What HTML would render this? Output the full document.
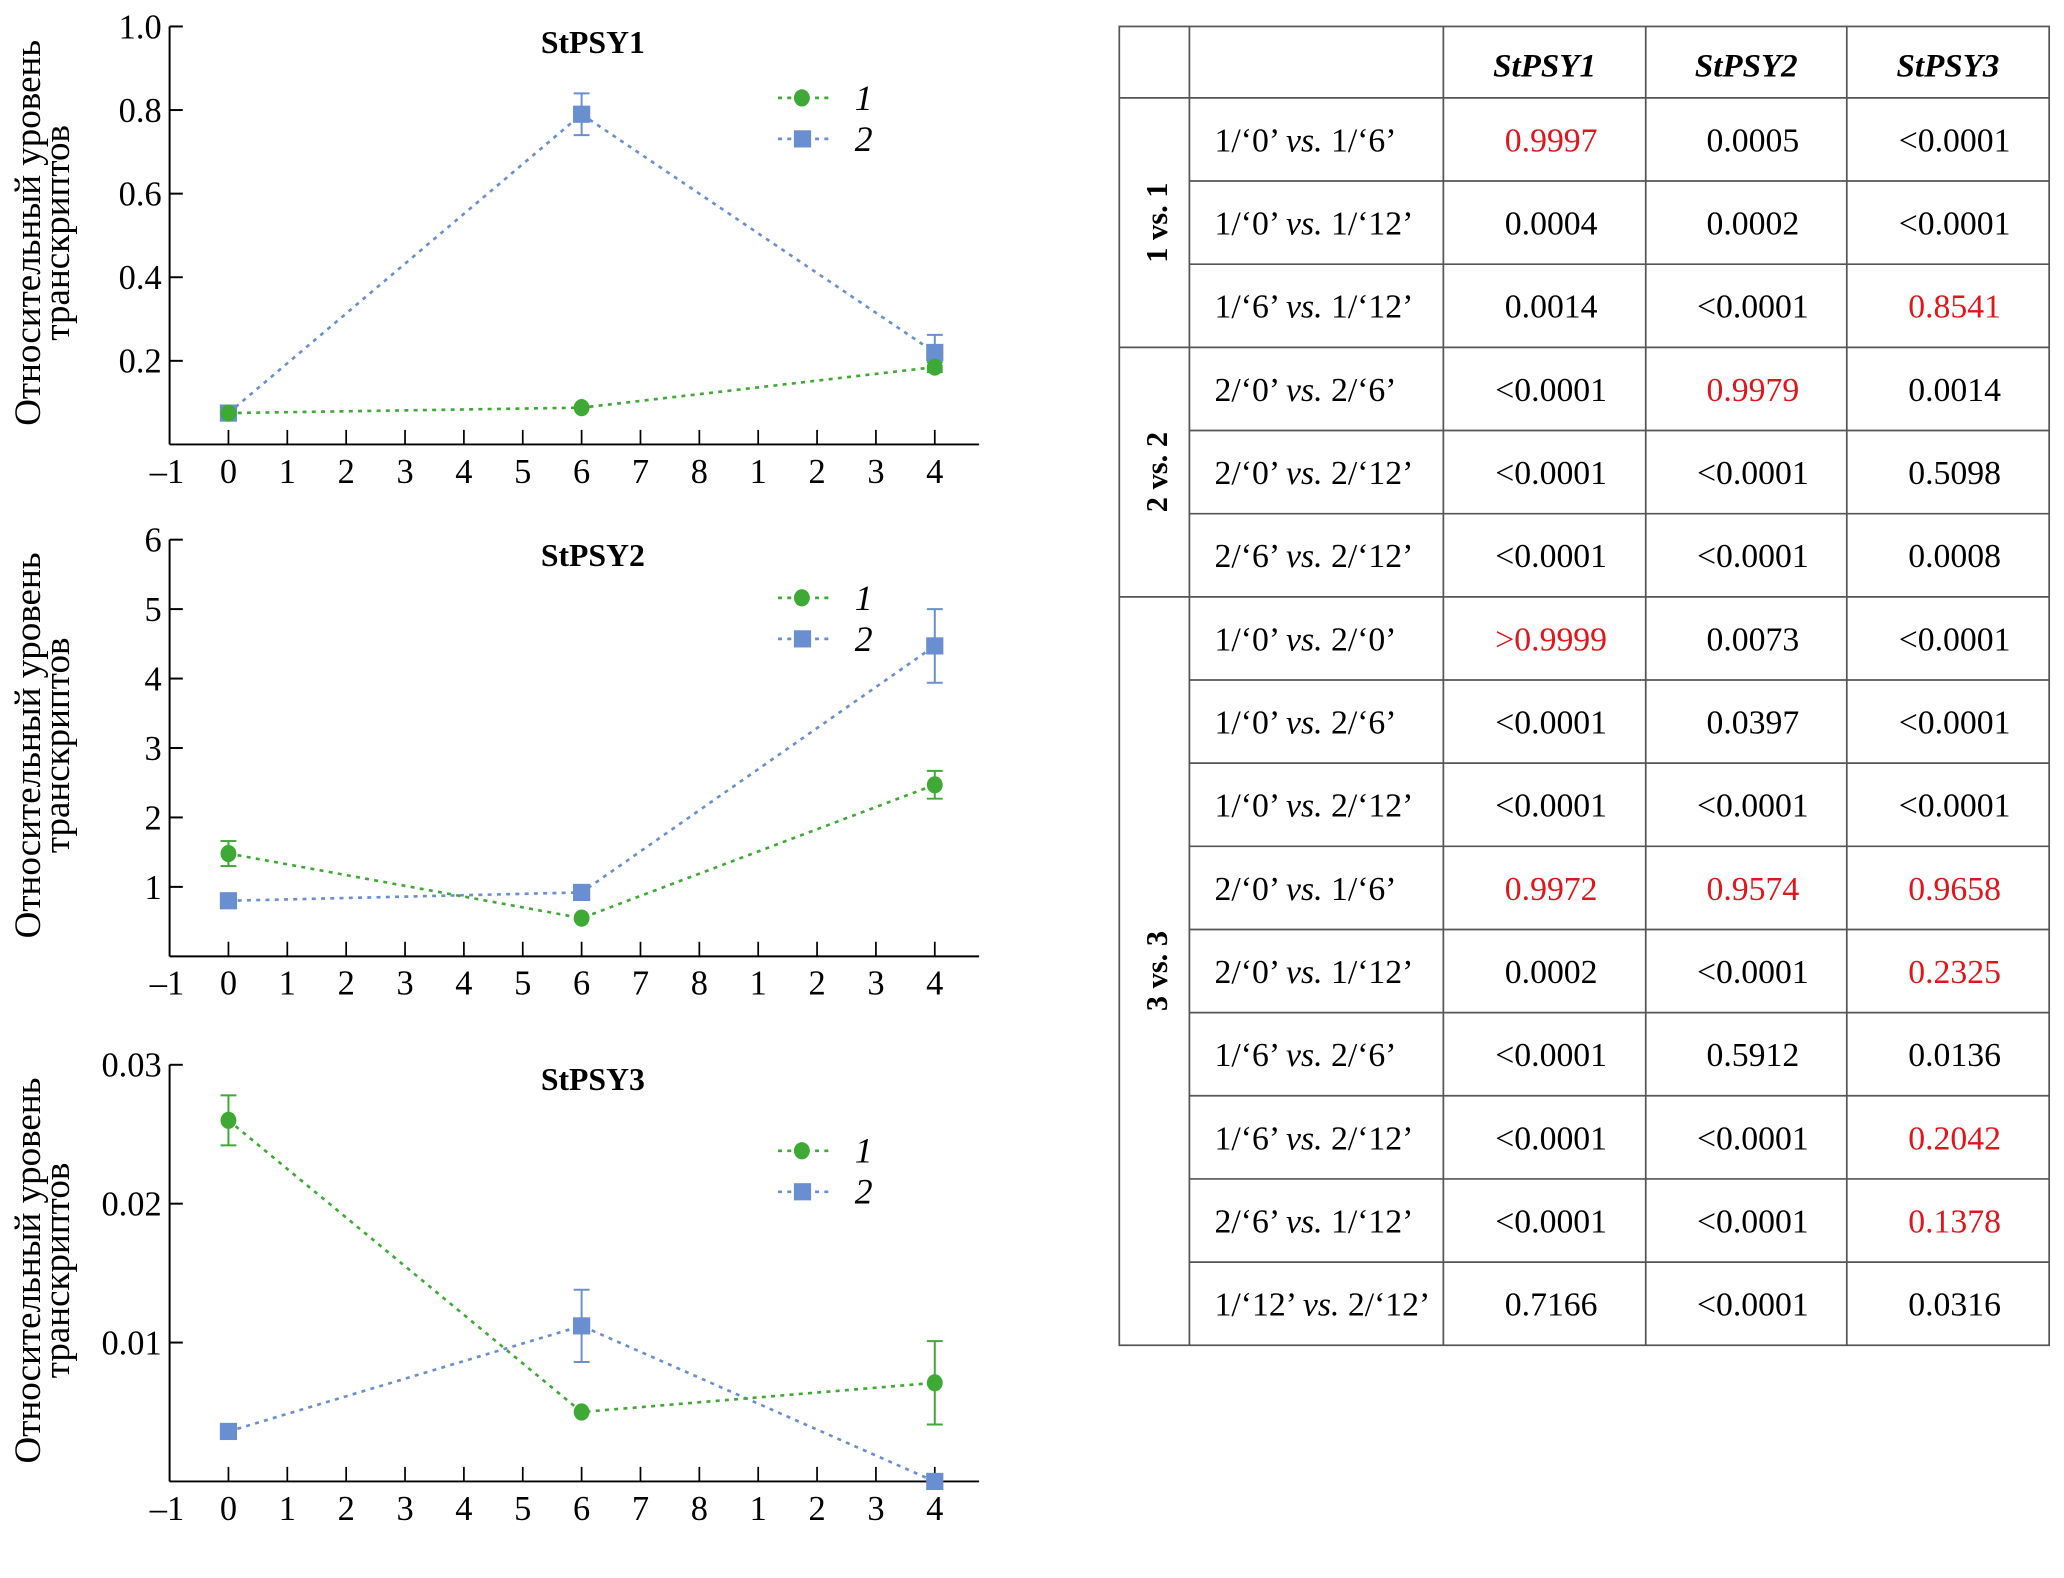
<!DOCTYPE html>
<html><head><meta charset="utf-8"><style>
html,body{margin:0;padding:0;background:#fff;}
svg{display:block;font-family:"Liberation Serif",serif;}
</style></head><body>
<svg id="root" width="2064" height="1578" viewBox="0 0 1560 1193" xmlns="http://www.w3.org/2000/svg">
<g id="charts"></g>
<g id="table"></g>
</svg>
<script>
const xLabels = ["–1","0","1","2","3","4","5","6","7","8","1","2","3","4"];
const pointIdx = [1, 7, 13];
const titles = ["StPSY1","StPSY2","StPSY3"];
const yTicks1 = [0.2,0.4,0.6,0.8,1.0];
const yTickLbl1 = ["0.2","0.4","0.6","0.8","1.0"];
const yTicks2 = [1,2,3,4,5,6];
const yTickLbl2 = ["1","2","3","4","5","6"];
const yTicks3 = [0.01,0.02,0.03];
const yTickLbl3 = ["0.01","0.02","0.03"];
const s1g = [0.075,0.088,0.185], s1gErr = [0,0,0.012];
const s1b = [0.075,0.79,0.22], s1bErr = [0,0.05,0.042];
const s2g = [1.48,0.55,2.47], s2gErr = [0.18,0,0.2];
const s2b = [0.8,0.92,4.47], s2bErr = [0,0,0.53];
const s3g = [0.026,0.005,0.0071], s3gErr = [0.0018,0,0.003];
const s3b = [0.0036,0.0112,0.0], s3bErr = [0,0.0026,0];

const NS="http://www.w3.org/2000/svg";
function el(tag,attrs,parent,text){const e=document.createElementNS(NS,tag);for(const k in attrs)e.setAttribute(k,attrs[k]);if(text!==undefined)e.textContent=text;parent.appendChild(e);return e;}

const panels=[
 {top:20,bot:336,ymax:1.0,ticks:yTicks1,lbl:yTickLbl1,g:s1g,ge:s1gErr,b:s1b,be:s1bErr,tY:40,lY:74},
 {top:408,bot:723,ymax:6,ticks:yTicks2,lbl:yTickLbl2,g:s2g,ge:s2gErr,b:s2b,be:s2bErr,tY:428,lY:452},
 {top:805,bot:1120,ymax:0.03,ticks:yTicks3,lbl:yTickLbl3,g:s3g,ge:s3gErr,b:s3b,be:s3bErr,tY:824,lY:870}
];
const charts=document.getElementById('charts');
const X0=128, DX=44.5;
const xs=i=>X0+i*DX;
panels.forEach((p,pi)=>{
 const g=el('g',{},charts);
 
 
 const ys=v=>p.bot-(v/p.ymax)*(p.bot-p.top);
 el('line',{x1:X0,y1:p.top,x2:X0,y2:p.bot,stroke:'#000','stroke-width':1.5},g);
 el('line',{x1:X0,y1:p.bot,x2:740,y2:p.bot,stroke:'#000','stroke-width':1.5},g);
 p.ticks.forEach((t,i)=>{
  el('line',{x1:X0,y1:ys(t),x2:X0+10,y2:ys(t),stroke:'#000','stroke-width':1.5},g);
  const tl=el('text',{x:X0-6,y:ys(t)+9,'text-anchor':'end','font-size':26},g,p.lbl[i]);
  
  
 });
 xLabels.forEach((l,i)=>{
  if(i>0) el('line',{x1:xs(i),y1:p.bot,x2:xs(i),y2:p.bot-11,stroke:'#000','stroke-width':1.3},g);
  const tl=el('text',{x:xs(i)+(i==0?-2:0),y:p.bot+29,'text-anchor':'middle','font-size':26},g,l);
  
  
 });
 const tt=el('text',{x:448,y:p.tY,'text-anchor':'middle','font-size':24,'font-weight':'bold'},g,titles[pi]);
 
 
 const yt=el('text',{transform:`translate(30,${(p.top+p.bot)/2-2}) rotate(-90)`,'text-anchor':'middle','font-size':28},g);
 
 
 el('tspan',{x:0,y:0},yt,'Относительный уровень');
 el('tspan',{x:0,y:22},yt,'транскриптов');
 [[p.b,p.be,'#6a8fd0','sq'],[p.g,p.ge,'#3eaa35','ci']].forEach(([vals,errs,col,shape])=>{
  const pts=vals.map((v,i)=>xs(pointIdx[i])+','+ys(v)).join(' ');
  const ln=el('polyline',{points:pts,fill:'none',stroke:col,'stroke-width':2,'stroke-dasharray':'3,4'},g);
  
  
  vals.forEach((v,i)=>{
   const x=xs(pointIdx[i]),y=ys(v);
   if(errs[i]>0){
    const y1=ys(v+errs[i]),y2=ys(v-errs[i]);
    el('line',{x1:x,y1:y1,x2:x,y2:y2,stroke:col,'stroke-width':1.5},g);
    el('line',{x1:x-6,y1:y1,x2:x+6,y2:y1,stroke:col,'stroke-width':1.5},g);
    el('line',{x1:x-6,y1:y2,x2:x+6,y2:y2,stroke:col,'stroke-width':1.5},g);
   }
   let m;
   if(shape==='sq') m=el('rect',{x:x-6.5,y:y-6.5,width:13,height:13,fill:col},g);
   else m=el('ellipse',{cx:x,cy:y,rx:6,ry:6.5,fill:col},g);
   
   
  });
 });
 [['#3eaa35','ci','1',p.lY],['#6a8fd0','sq','2',p.lY+31]].forEach(([col,shape,lab,ly])=>{
  const lg=el('g',{},g);
  
  
  el('line',{x1:588,y1:ly,x2:630,y2:ly,stroke:col,'stroke-width':2,'stroke-dasharray':'3,4'},lg);
  if(shape==='sq') el('rect',{x:600,y:ly-6.5,width:13,height:13,fill:col},lg);
  else el('ellipse',{cx:606,cy:ly,rx:6,ry:6.5,fill:col},lg);
  el('text',{x:646,y:ly+9,'font-size':27,'font-style':'italic'},lg,lab);
 });
});

// table
const colX=[846,899,1091,1244,1396,1549];
const rowTop=20, headH=54, rowH=62.87;
const headers=["StPSY1","StPSY2","StPSY3"];
const rowLabels=["1/‘0’ |vs.| 1/‘6’","1/‘0’ |vs.| 1/‘12’","1/‘6’ |vs.| 1/‘12’","2/‘0’ |vs.| 2/‘6’","2/‘0’ |vs.| 2/‘12’","2/‘6’ |vs.| 2/‘12’","1/‘0’ |vs.| 2/‘0’","1/‘0’ |vs.| 2/‘6’","1/‘0’ |vs.| 2/‘12’","2/‘0’ |vs.| 1/‘6’","2/‘0’ |vs.| 1/‘12’","1/‘6’ |vs.| 2/‘6’","1/‘6’ |vs.| 2/‘12’","2/‘6’ |vs.| 1/‘12’","1/‘12’ |vs.| 2/‘12’"];
const vals=[["0.9997","0.0005","<0.0001"],["0.0004","0.0002","<0.0001"],["0.0014","<0.0001","0.8541"],["<0.0001","0.9979","0.0014"],["<0.0001","<0.0001","0.5098"],["<0.0001","<0.0001","0.0008"],[">0.9999","0.0073","<0.0001"],["<0.0001","0.0397","<0.0001"],["<0.0001","<0.0001","<0.0001"],["0.9972","0.9574","0.9658"],["0.0002","<0.0001","0.2325"],["<0.0001","0.5912","0.0136"],["<0.0001","<0.0001","0.2042"],["<0.0001","<0.0001","0.1378"],["0.7166","<0.0001","0.0316"]];
const red=[[1,0,0],[0,0,0],[0,0,1],[0,1,0],[0,0,0],[0,0,0],[1,0,0],[0,0,0],[0,0,0],[1,1,1],[0,0,1],[0,0,0],[0,0,1],[0,0,1],[0,0,0]];
const groups=[["1 vs. 1",0,3],["2 vs. 2",3,6],["3 vs. 3",6,15]];
const tb=document.getElementById('table');
const bottom=rowTop+headH+rowH*15;
const S='#555';
el('rect',{x:846,y:rowTop,width:703,height:bottom-rowTop,fill:'none',stroke:S,'stroke-width':1.3},tb);
colX.slice(1,-1).forEach(x=>el('line',{x1:x,y1:rowTop,x2:x,y2:bottom,stroke:S,'stroke-width':1.3},tb));
el('line',{x1:846,y1:rowTop+headH,x2:1549,y2:rowTop+headH,stroke:S,'stroke-width':1.3},tb);
for(let r=1;r<15;r++){const y=rowTop+headH+r*rowH;const gb=(r==3||r==6);el('line',{x1:gb?846:899,y1:y,x2:1549,y2:y,stroke:S,'stroke-width':1.3},tb);}
headers.forEach((h,i)=>{const t=el('text',{x:(colX[i+2]+colX[i+3])/2,y:rowTop+38,'text-anchor':'middle','font-size':25,'font-style':'italic','font-weight':'bold'},tb,h);
 
 });
groups.forEach(([g,a,b])=>{const cy=rowTop+headH+(a+b)/2*rowH;const t=el('text',{transform:`translate(882,${cy}) rotate(-90)`,'text-anchor':'middle','font-size':23,'font-weight':'bold'},tb,g);
 
 });
rowLabels.forEach((l,r)=>{const y=rowTop+headH+r*rowH+rowH/2+9;const parts=l.split('|');
 const t=el('text',{x:918,y:y,'font-size':25.5},tb);
 
 
 el('tspan',{},t,parts[0]);el('tspan',{'font-style':'italic'},t,parts[1]);el('tspan',{},t,parts[2]);
 vals[r].forEach((v,c)=>{const tv=el('text',{x:(colX[c+2]+colX[c+3])/2+5,y:y,'text-anchor':'middle','font-size':25.5,fill:red[r][c]?'#e0161c':'#000'},tb,v);
  
  });
});
</script>
</body></html>
